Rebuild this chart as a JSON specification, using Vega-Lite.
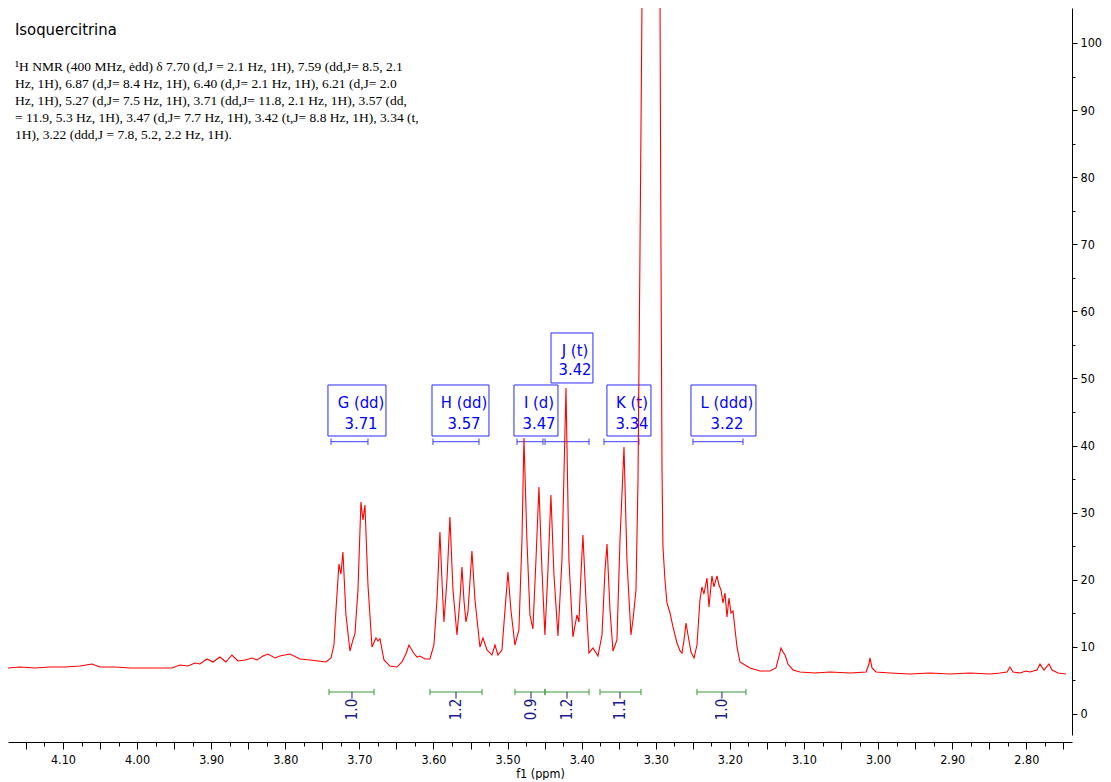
{
  "$schema": "https://vega.github.io/schema/vega-lite/v6.json",
  "width": 1064,
  "height": 727,
  "padding": {"left": 8, "top": 8, "right": 0, "bottom": 0},
  "autosize": {"type": "pad"},
  "background": "white",
  "config": {"view": {"stroke": null}},
  "resolve": {"axis": {"x": "independent", "y": "independent"}},
  "title": {
    "text": "Isoquercitrina",
    "subtitle": [
      "¹H NMR (400 MHz, ėdd) δ 7.70 (d,J = 2.1 Hz, 1H), 7.59 (dd,J= 8.5, 2.1",
      "Hz, 1H), 6.87 (d,J= 8.4 Hz, 1H), 6.40 (d,J= 2.1 Hz, 1H), 6.21 (d,J= 2.0",
      "Hz, 1H), 5.27 (d,J= 7.5 Hz, 1H), 3.71 (dd,J= 11.8, 2.1 Hz, 1H), 3.57 (dd,",
      "= 11.9, 5.3 Hz, 1H), 3.47 (d,J= 7.7 Hz, 1H), 3.42 (t,J= 8.8 Hz, 1H), 3.34 (t,",
      "1H), 3.22 (ddd,J = 7.8, 5.2, 2.2 Hz, 1H)."
    ],
    "anchor": "start",
    "frame": "group",
    "orient": "top",
    "offset": -133,
    "dx": 7,
    "font": "DejaVu Sans Condensed, Liberation Sans, sans-serif",
    "fontSize": 16.5,
    "fontWeight": "normal",
    "color": "#000000",
    "subtitleFont": "Liberation Serif",
    "subtitleFontSize": 13.5,
    "subtitleColor": "#000000",
    "subtitleLineHeight": 17,
    "subtitlePadding": 21
  },
  "datasets": {
    "mult": [
      {"label": "G (dd)", "shift": "3.71", "x1": 3.7424, "x2": 3.6641, "y1": 41.43, "y2": 49.03, "tx": 3.6978, "ly1": 46.35, "ly2": 43.22, "b1": 3.7383, "b2": 3.6884},
      {"label": "H (dd)", "shift": "3.57", "x1": 3.6020, "x2": 3.5251, "y1": 41.43, "y2": 49.03, "tx": 3.5588, "ly1": 46.35, "ly2": 43.22, "b1": 3.6007, "b2": 3.5386},
      {"label": "I (d)", "shift": "3.47", "x1": 3.4914, "x2": 3.4320, "y1": 41.43, "y2": 49.03, "tx": 3.4576, "ly1": 46.35, "ly2": 43.22, "b1": 3.4873, "b2": 3.4522},
      {"label": "J (t)", "shift": "3.42", "x1": 3.4414, "x2": 3.3848, "y1": 49.33, "y2": 56.78, "tx": 3.4090, "ly1": 54.10, "ly2": 51.27, "b1": 3.4495, "b2": 3.3901},
      {"label": "K (t)", "shift": "3.34", "x1": 3.3659, "x2": 3.3065, "y1": 41.43, "y2": 49.03, "tx": 3.3321, "ly1": 46.35, "ly2": 43.22, "b1": 3.3699, "b2": 3.3227},
      {"label": "L (ddd)", "shift": "3.22", "x1": 3.2525, "x2": 3.1648, "y1": 41.43, "y2": 49.03, "tx": 3.2039, "ly1": 46.35, "ly2": 43.22, "b1": 3.2498, "b2": 3.1823}
    ],
    "integ": [
      {"val": "1.0", "i1": 3.7410, "i2": 3.6803, "ic": 3.7100},
      {"val": "1.2", "i1": 3.6047, "i2": 3.5345, "ic": 3.5696},
      {"val": "0.9", "i1": 3.4900, "i2": 3.4495, "ic": 3.4684},
      {"val": "1.2", "i1": 3.4495, "i2": 3.3901, "ic": 3.4198},
      {"val": "1.1", "i1": 3.3753, "i2": 3.3200, "ic": 3.3483},
      {"val": "1.0", "i1": 3.2444, "i2": 3.1783, "ic": 3.2107}
    ],
    "spec": [
      {"ppm": 4.1742, "i": 6.86}, {"ppm": 4.1581, "i": 7.00}, {"ppm": 4.1378, "i": 6.86}, {"ppm": 4.1176, "i": 7.00},
      {"ppm": 4.0973, "i": 7.00}, {"ppm": 4.0771, "i": 7.15}, {"ppm": 4.0609, "i": 7.45}, {"ppm": 4.0501, "i": 7.00},
      {"ppm": 4.0299, "i": 7.00}, {"ppm": 4.0096, "i": 6.86}, {"ppm": 3.9894, "i": 6.86}, {"ppm": 3.9691, "i": 6.86},
      {"ppm": 3.9529, "i": 6.86}, {"ppm": 3.9422, "i": 7.30}, {"ppm": 3.9314, "i": 7.15}, {"ppm": 3.9219, "i": 7.60},
      {"ppm": 3.9152, "i": 7.45}, {"ppm": 3.9057, "i": 8.20}, {"ppm": 3.8976, "i": 7.75}, {"ppm": 3.8882, "i": 8.49},
      {"ppm": 3.8801, "i": 7.75}, {"ppm": 3.8720, "i": 8.79}, {"ppm": 3.8639, "i": 7.90}, {"ppm": 3.8544, "i": 8.05},
      {"ppm": 3.8450, "i": 8.35}, {"ppm": 3.8382, "i": 8.05}, {"ppm": 3.8301, "i": 8.64}, {"ppm": 3.8234, "i": 8.94},
      {"ppm": 3.8139, "i": 8.35}, {"ppm": 3.8072, "i": 8.64}, {"ppm": 3.8005, "i": 8.79}, {"ppm": 3.7937, "i": 8.94},
      {"ppm": 3.7802, "i": 8.20}, {"ppm": 3.7667, "i": 8.05}, {"ppm": 3.7559, "i": 7.90}, {"ppm": 3.7451, "i": 7.75},
      {"ppm": 3.7383, "i": 8.35}, {"ppm": 3.7343, "i": 10.28}, {"ppm": 3.7316, "i": 15.50}, {"ppm": 3.7276, "i": 22.35},
      {"ppm": 3.7249, "i": 20.86}, {"ppm": 3.7222, "i": 24.14}, {"ppm": 3.7181, "i": 14.75}, {"ppm": 3.7127, "i": 9.39},
      {"ppm": 3.7087, "i": 11.03}, {"ppm": 3.7060, "i": 11.92}, {"ppm": 3.7019, "i": 18.48}, {"ppm": 3.6979, "i": 31.59},
      {"ppm": 3.6952, "i": 28.91}, {"ppm": 3.6925, "i": 31.15}, {"ppm": 3.6884, "i": 19.22}, {"ppm": 3.6830, "i": 9.99},
      {"ppm": 3.6776, "i": 11.33}, {"ppm": 3.6749, "i": 10.88}, {"ppm": 3.6722, "i": 11.18}, {"ppm": 3.6668, "i": 8.05},
      {"ppm": 3.6588, "i": 7.15}, {"ppm": 3.6493, "i": 7.00}, {"ppm": 3.6426, "i": 7.75}, {"ppm": 3.6372, "i": 8.94},
      {"ppm": 3.6331, "i": 10.28}, {"ppm": 3.6277, "i": 9.24}, {"ppm": 3.6223, "i": 8.49}, {"ppm": 3.6183, "i": 8.64},
      {"ppm": 3.6115, "i": 8.20}, {"ppm": 3.6048, "i": 8.20}, {"ppm": 3.5994, "i": 10.28}, {"ppm": 3.5953, "i": 16.99},
      {"ppm": 3.5913, "i": 27.12}, {"ppm": 3.5886, "i": 19.97}, {"ppm": 3.5859, "i": 13.71}, {"ppm": 3.5818, "i": 19.97},
      {"ppm": 3.5778, "i": 29.36}, {"ppm": 3.5737, "i": 18.48}, {"ppm": 3.5683, "i": 11.77}, {"ppm": 3.5643, "i": 16.99},
      {"ppm": 3.5616, "i": 21.91}, {"ppm": 3.5589, "i": 16.99}, {"ppm": 3.5562, "i": 13.71}, {"ppm": 3.5535, "i": 15.20},
      {"ppm": 3.5481, "i": 24.29}, {"ppm": 3.5440, "i": 16.99}, {"ppm": 3.5373, "i": 9.99}, {"ppm": 3.5332, "i": 11.33},
      {"ppm": 3.5278, "i": 9.54}, {"ppm": 3.5211, "i": 8.79}, {"ppm": 3.5170, "i": 10.28}, {"ppm": 3.5130, "i": 8.79},
      {"ppm": 3.5076, "i": 9.54}, {"ppm": 3.5035, "i": 15.50}, {"ppm": 3.4995, "i": 21.16}, {"ppm": 3.4955, "i": 15.50},
      {"ppm": 3.4901, "i": 10.28}, {"ppm": 3.4847, "i": 12.52}, {"ppm": 3.4806, "i": 25.93}, {"ppm": 3.4779, "i": 41.13},
      {"ppm": 3.4739, "i": 25.93}, {"ppm": 3.4698, "i": 14.75}, {"ppm": 3.4658, "i": 12.67}, {"ppm": 3.4617, "i": 22.95},
      {"ppm": 3.4577, "i": 33.83}, {"ppm": 3.4536, "i": 21.46}, {"ppm": 3.4496, "i": 11.77}, {"ppm": 3.4455, "i": 21.46},
      {"ppm": 3.4415, "i": 32.64}, {"ppm": 3.4374, "i": 20.72}, {"ppm": 3.4320, "i": 11.62}, {"ppm": 3.4266, "i": 22.95},
      {"ppm": 3.4212, "i": 48.58}, {"ppm": 3.4172, "i": 22.95}, {"ppm": 3.4118, "i": 11.48}, {"ppm": 3.4064, "i": 14.75},
      {"ppm": 3.4037, "i": 13.71}, {"ppm": 3.4010, "i": 20.72}, {"ppm": 3.3983, "i": 26.68}, {"ppm": 3.3942, "i": 16.99},
      {"ppm": 3.3902, "i": 9.09}, {"ppm": 3.3848, "i": 9.84}, {"ppm": 3.3780, "i": 8.64}, {"ppm": 3.3726, "i": 11.77},
      {"ppm": 3.3685, "i": 21.46}, {"ppm": 3.3658, "i": 25.34}, {"ppm": 3.3618, "i": 15.50}, {"ppm": 3.3577, "i": 9.39},
      {"ppm": 3.3524, "i": 11.03}, {"ppm": 3.3483, "i": 25.93}, {"ppm": 3.3429, "i": 39.79}, {"ppm": 3.3389, "i": 22.95},
      {"ppm": 3.3335, "i": 11.77}, {"ppm": 3.3308, "i": 14.01}, {"ppm": 3.3267, "i": 18.48}, {"ppm": 3.3240, "i": 34.87},
      {"ppm": 3.3213, "i": 69.15}, {"ppm": 3.3186, "i": 106}, {"ppm": 3.3146, "i": 180}, {"ppm": 3.3065, "i": 210},
      {"ppm": 3.2970, "i": 180}, {"ppm": 3.2943, "i": 106}, {"ppm": 3.2930, "i": 69.15}, {"ppm": 3.2916, "i": 36.4},
      {"ppm": 3.2903, "i": 24.9}, {"ppm": 3.2876, "i": 19.97}, {"ppm": 3.2849, "i": 16.54}, {"ppm": 3.2808, "i": 15.05},
      {"ppm": 3.2768, "i": 12.97}, {"ppm": 3.2714, "i": 10.58}, {"ppm": 3.2673, "i": 9.39}, {"ppm": 3.2646, "i": 9.09},
      {"ppm": 3.2619, "i": 11.03}, {"ppm": 3.2592, "i": 13.56}, {"ppm": 3.2565, "i": 11.77}, {"ppm": 3.2525, "i": 9.24},
      {"ppm": 3.2484, "i": 8.35}, {"ppm": 3.2444, "i": 10.28}, {"ppm": 3.2404, "i": 16.99}, {"ppm": 3.2377, "i": 18.93},
      {"ppm": 3.2350, "i": 17.88}, {"ppm": 3.2309, "i": 20.27}, {"ppm": 3.2282, "i": 15.95}, {"ppm": 3.2242, "i": 20.57},
      {"ppm": 3.2215, "i": 18.93}, {"ppm": 3.2174, "i": 20.57}, {"ppm": 3.2147, "i": 19.22}, {"ppm": 3.2120, "i": 18.48},
      {"ppm": 3.2093, "i": 16.54}, {"ppm": 3.2066, "i": 18.03}, {"ppm": 3.2039, "i": 14.46}, {"ppm": 3.2012, "i": 17.29},
      {"ppm": 3.1985, "i": 15.05}, {"ppm": 3.1958, "i": 15.35}, {"ppm": 3.1904, "i": 9.99}, {"ppm": 3.1864, "i": 7.75},
      {"ppm": 3.1796, "i": 7.30}, {"ppm": 3.1729, "i": 6.86}, {"ppm": 3.1594, "i": 6.41}, {"ppm": 3.1459, "i": 6.41},
      {"ppm": 3.1378, "i": 6.86}, {"ppm": 3.1337, "i": 8.64}, {"ppm": 3.1310, "i": 9.84}, {"ppm": 3.1283, "i": 9.24},
      {"ppm": 3.1256, "i": 8.79}, {"ppm": 3.1216, "i": 7.45}, {"ppm": 3.1148, "i": 6.56}, {"ppm": 3.1054, "i": 6.26},
      {"ppm": 3.0852, "i": 6.11}, {"ppm": 3.0649, "i": 6.26}, {"ppm": 3.0379, "i": 6.11}, {"ppm": 3.0163, "i": 6.26},
      {"ppm": 3.0123, "i": 7.45}, {"ppm": 3.0109, "i": 8.35}, {"ppm": 3.0082, "i": 6.86}, {"ppm": 3.0028, "i": 6.26},
      {"ppm": 2.9839, "i": 6.11}, {"ppm": 2.9570, "i": 5.96}, {"ppm": 2.9300, "i": 6.11}, {"ppm": 2.9030, "i": 5.96},
      {"ppm": 2.8760, "i": 6.11}, {"ppm": 2.8490, "i": 5.96}, {"ppm": 2.8355, "i": 6.11}, {"ppm": 2.8260, "i": 6.26},
      {"ppm": 2.8220, "i": 7.00}, {"ppm": 2.8179, "i": 6.26}, {"ppm": 2.8085, "i": 6.11}, {"ppm": 2.8004, "i": 6.41},
      {"ppm": 2.7950, "i": 6.26}, {"ppm": 2.7856, "i": 6.56}, {"ppm": 2.7815, "i": 7.45}, {"ppm": 2.7761, "i": 6.56},
      {"ppm": 2.7694, "i": 7.45}, {"ppm": 2.7653, "i": 6.56}, {"ppm": 2.7572, "i": 6.11}, {"ppm": 2.7464, "i": 5.96}
    ]
  },
  "layer": [
    {
      "data": {"name": "mult"},
      "mark": {"type": "rect", "fill": "white", "fillOpacity": 0, "stroke": "#2a2aff", "strokeWidth": 1},
      "encoding": {
        "x": {"field": "x1", "type": "quantitative", "scale": {"domain": [2.7383, 4.1742], "reverse": true, "nice": false, "zero": false},
          "axis": {"orient": "bottom", "offset": 7, "values": [2.75, 2.85, 2.95, 3.05, 3.15, 3.25, 3.35, 3.45, 3.55, 3.65, 3.75, 3.85, 3.95, 4.05, 4.15], "tickSize": 7, "tickColor": "#000000", "labels": false, "domain": false, "grid": false, "title": null}},
        "x2": {"field": "x2"},
        "y": {"field": "y1", "type": "quantitative", "scale": {"domain": [-3.13, 105.21], "nice": false, "zero": false},
          "axis": {"orient": "right", "values": [5, 15, 25, 35, 45, 55, 65, 75, 85, 95], "tickSize": 3, "tickColor": "#000000", "labels": false, "domain": false, "grid": false, "title": null}},
        "y2": {"field": "y2"}
      }
    },
    {
      "data": {"name": "mult"},
      "mark": {"type": "text", "font": "DejaVu Sans Condensed, Liberation Sans, sans-serif", "fontSize": 16.5, "color": "#0000ff", "align": "center", "baseline": "middle"},
      "encoding": {
        "x": {"field": "tx", "type": "quantitative", "scale": {"domain": [2.7383, 4.1742], "reverse": true, "nice": false, "zero": false},
          "axis": {"orient": "bottom", "offset": 7, "values": [2.775, 2.825, 2.875, 2.925, 2.975, 3.025, 3.075, 3.125, 3.175, 3.225, 3.275, 3.325, 3.375, 3.425, 3.475, 3.525, 3.575, 3.625, 3.675, 3.725, 3.775, 3.825, 3.875, 3.925, 3.975, 4.025, 4.075, 4.125], "tickSize": 4, "tickColor": "#000000", "labels": false, "domain": false, "grid": false, "title": null}},
        "y": {"field": "ly1", "type": "quantitative", "scale": {"domain": [-3.13, 105.21], "nice": false, "zero": false}, "axis": null},
        "text": {"field": "label"}
      }
    },
    {
      "data": {"name": "mult"},
      "mark": {"type": "text", "font": "DejaVu Sans Condensed, Liberation Sans, sans-serif", "fontSize": 16.5, "color": "#0000ff", "align": "center", "baseline": "middle"},
      "encoding": {
        "x": {"field": "tx", "type": "quantitative", "scale": {"domain": [2.7383, 4.1742], "reverse": true, "nice": false, "zero": false}, "axis": null},
        "y": {"field": "ly2", "type": "quantitative", "scale": {"domain": [-3.13, 105.21], "nice": false, "zero": false}, "axis": null},
        "text": {"field": "shift"}
      }
    },
    {
      "data": {"name": "mult"},
      "mark": {"type": "rule", "color": "#3b3bff", "strokeWidth": 1},
      "encoding": {
        "x": {"field": "b1", "type": "quantitative", "scale": {"domain": [2.7383, 4.1742], "reverse": true, "nice": false, "zero": false}, "axis": null},
        "x2": {"field": "b2"},
        "y": {"datum": 40.58, "type": "quantitative", "scale": {"domain": [-3.13, 105.21], "nice": false, "zero": false}, "axis": null}
      }
    },
    {
      "data": {"name": "mult"},
      "mark": {"type": "rule", "color": "#3b3bff", "strokeWidth": 1},
      "encoding": {
        "x": {"field": "b1", "type": "quantitative", "scale": {"domain": [2.7383, 4.1742], "reverse": true, "nice": false, "zero": false}, "axis": null},
        "y": {"datum": 41.05, "type": "quantitative", "scale": {"domain": [-3.13, 105.21], "nice": false, "zero": false}, "axis": null},
        "y2": {"datum": 40.1}
      }
    },
    {
      "data": {"name": "mult"},
      "mark": {"type": "rule", "color": "#3b3bff", "strokeWidth": 1},
      "encoding": {
        "x": {"field": "b2", "type": "quantitative", "scale": {"domain": [2.7383, 4.1742], "reverse": true, "nice": false, "zero": false}, "axis": null},
        "y": {"datum": 41.05, "type": "quantitative", "scale": {"domain": [-3.13, 105.21], "nice": false, "zero": false}, "axis": null},
        "y2": {"datum": 40.1}
      }
    },
    {
      "data": {"name": "integ"},
      "mark": {"type": "rule", "color": "#3a9a3a", "strokeWidth": 1},
      "encoding": {
        "x": {"field": "i1", "type": "quantitative", "scale": {"domain": [2.7383, 4.1742], "reverse": true, "nice": false, "zero": false}, "axis": null},
        "x2": {"field": "i2"},
        "y": {"datum": 3.28, "type": "quantitative", "scale": {"domain": [-3.13, 105.21], "nice": false, "zero": false}, "axis": null}
      }
    },
    {
      "data": {"name": "integ"},
      "mark": {"type": "rule", "color": "#3a9a3a", "strokeWidth": 1},
      "encoding": {
        "x": {"field": "i1", "type": "quantitative", "scale": {"domain": [2.7383, 4.1742], "reverse": true, "nice": false, "zero": false}, "axis": null},
        "y": {"datum": 3.75, "type": "quantitative", "scale": {"domain": [-3.13, 105.21], "nice": false, "zero": false}, "axis": null},
        "y2": {"datum": 2.81}
      }
    },
    {
      "data": {"name": "integ"},
      "mark": {"type": "rule", "color": "#3a9a3a", "strokeWidth": 1},
      "encoding": {
        "x": {"field": "i2", "type": "quantitative", "scale": {"domain": [2.7383, 4.1742], "reverse": true, "nice": false, "zero": false}, "axis": null},
        "y": {"datum": 3.75, "type": "quantitative", "scale": {"domain": [-3.13, 105.21], "nice": false, "zero": false}, "axis": null},
        "y2": {"datum": 2.81}
      }
    },
    {
      "data": {"name": "integ"},
      "mark": {"type": "rule", "color": "#1a1a8a", "strokeWidth": 1},
      "encoding": {
        "x": {"field": "ic", "type": "quantitative", "scale": {"domain": [2.7383, 4.1742], "reverse": true, "nice": false, "zero": false}, "axis": null},
        "y": {"datum": 3.28, "type": "quantitative", "scale": {"domain": [-3.13, 105.21], "nice": false, "zero": false}, "axis": null},
        "y2": {"datum": 2.3}
      }
    },
    {
      "data": {"name": "integ"},
      "mark": {"type": "text", "font": "DejaVu Sans Condensed, Liberation Sans, sans-serif", "fontSize": 15, "color": "#1a1a8a", "align": "center", "baseline": "middle", "angle": 270},
      "encoding": {
        "x": {"field": "ic", "type": "quantitative", "scale": {"domain": [2.7383, 4.1742], "reverse": true, "nice": false, "zero": false}, "axis": null},
        "y": {"datum": 0.67, "type": "quantitative", "scale": {"domain": [-3.13, 105.21], "nice": false, "zero": false}, "axis": null},
        "text": {"field": "val"}
      }
    },
    {
      "data": {"name": "spec"},
      "mark": {"type": "line", "color": "#ff0000", "strokeWidth": 1.1, "clip": true},
      "encoding": {
        "x": {
          "field": "ppm", "type": "quantitative",
          "scale": {"domain": [2.7383, 4.1742], "reverse": true, "nice": false, "zero": false},
          "axis": {
            "orient": "bottom",
            "values": [2.8, 2.9, 3.0, 3.1, 3.2, 3.3, 3.4, 3.5, 3.6, 3.7, 3.8, 3.9, 4.0, 4.1],
            "format": ".2f",
            "tickSize": 7,
            "offset": 7,
            "grid": false,
            "domainColor": "#000000",
            "tickColor": "#000000",
            "labelColor": "#000000",
            "labelFont": "DejaVu Sans Condensed, Liberation Sans, sans-serif",
            "labelFontSize": 12.5,
            "labelPadding": 4,
            "labelOverlap": false,
            "labelFlush": false,
            "title": "f1 (ppm)",
            "titleFont": "DejaVu Sans Condensed, Liberation Sans, sans-serif",
            "titleFontSize": 12.5,
            "titleFontWeight": "normal",
            "titleColor": "#000000",
            "titlePadding": 2
          }
        },
        "y": {
          "field": "i", "type": "quantitative",
          "scale": {"domain": [-3.13, 105.21], "nice": false, "zero": false},
          "axis": {
            "orient": "right",
            "values": [0, 10, 20, 30, 40, 50, 60, 70, 80, 90, 100],
            "tickSize": 5,
            "grid": false,
            "domainColor": "#000000",
            "tickColor": "#000000",
            "labelColor": "#000000",
            "labelFont": "DejaVu Sans Condensed, Liberation Sans, sans-serif",
            "labelFontSize": 12.5,
            "labelPadding": 3,
            "labelOverlap": false,
            "labelFlush": false,
            "title": null
          }
        }
      }
    }
  ]
}
